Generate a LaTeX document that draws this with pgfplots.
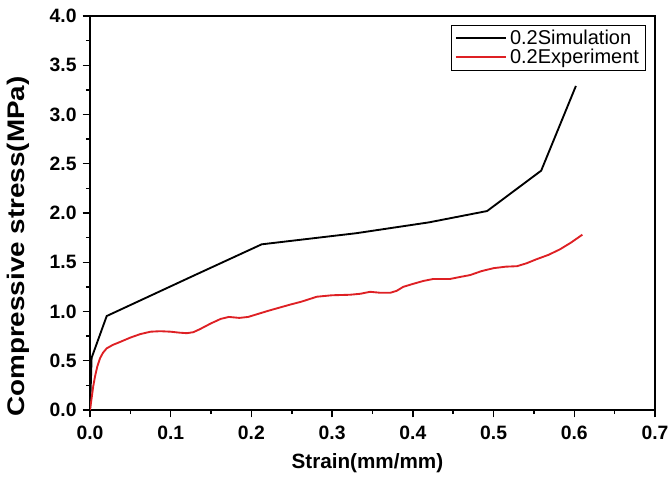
\documentclass[border=0pt]{standalone}
\usepackage{fontspec}
\setmainfont{Liberation Sans}
\usepackage{pgfplots}
\pgfplotsset{compat=1.18}
\definecolor{simblack}{RGB}{0,0,0}
\definecolor{expred}{RGB}{222,32,36}

\begin{document}
\begin{tikzpicture}
\begin{axis}[
    name=ax,
    width=423.75pt, height=295.5pt,
    scale only axis,
    xmin=0, xmax=0.7, ymin=0, ymax=4.0,
    xtick={0,0.1,...,0.7},
    ytick={0,0.5,...,4.0},
    minor x tick num=1,
    minor y tick num=1,
    xtick pos=bottom, ytick pos=left,
    tick align=outside,
    major tick length=5.5pt,
    minor tick length=3pt,
    axis line style={line width=1.1pt},
    tick style={line width=1.1pt, black},
    /pgf/number format/assume math mode=true,
    /pgf/number format/.cd, fixed, fixed zerofill, precision=1, /pgfplots/.cd,
    tick label style={font=\fontsize{14.5}{16}\selectfont\bfseries},
    xticklabel style={yshift=-3pt},
    yticklabel style={xshift=-1pt},
    xlabel={Strain(mm/mm)},
    ylabel={Compressive stress(MPa)},
    every axis x label/.style={at={(axis description cs:0.491,-0.135)}, anchor=center,
        font=\fontsize{15.5}{18}\selectfont\bfseries},
    every axis y label/.style={at={(axis description cs:-0.127,0.415)}, rotate=90, xscale=1.16,
        anchor=center, font=\fontsize{18}{20}\selectfont\bfseries},
    legend style={
        at={(0.984,0.977)}, anchor=north east,
        draw=black, thin,
        font=\fontsize{15}{17}\selectfont,
        inner xsep=3pt, inner ysep=1.5pt, row sep=-2pt,
    },
    legend cell align={left},
    legend image code/.code={\draw[#1] (0pt,0pt) -- (38pt,0pt);},
]
\addplot[simblack, line width=1.4pt] coordinates {
    (0,0) (0.002,0.53) (0.0207,0.954) (0.13,1.37) (0.2127,1.682)
    (0.33,1.795) (0.42,1.905) (0.492,2.02) (0.559,2.43) (0.602,3.29)
};
\addlegendentry{0.2Simulation}

\addplot[expred, line width=1.4pt] coordinates {
    (0,0) (0.002,0.12) (0.004,0.24) (0.0062,0.34) (0.009,0.44)
    (0.0124,0.525) (0.016,0.58) (0.0207,0.626) (0.028,0.66) (0.037,0.69)
    (0.05,0.735) (0.062,0.77) (0.075,0.795) (0.087,0.80) (0.1,0.795)
    (0.111,0.785) (0.12,0.78) (0.128,0.79) (0.136,0.82) (0.15,0.88)
    (0.162,0.925) (0.172,0.945) (0.185,0.935) (0.196,0.945) (0.21,0.98)
    (0.222,1.01) (0.235,1.04) (0.248,1.07) (0.262,1.10) (0.281,1.15)
    (0.3,1.165) (0.322,1.17) (0.335,1.18) (0.347,1.20) (0.36,1.19)
    (0.372,1.19) (0.38,1.21) (0.388,1.25) (0.40,1.28) (0.413,1.31)
    (0.425,1.33) (0.434,1.33) (0.446,1.33) (0.458,1.35) (0.471,1.37)
    (0.485,1.41) (0.50,1.44) (0.515,1.455) (0.529,1.46) (0.541,1.49)
    (0.553,1.53) (0.568,1.575) (0.582,1.63) (0.596,1.70) (0.610,1.78)
};
\addlegendentry{0.2Experiment}
\end{axis}
\pgfresetboundingbox
\path ([shift={(-67.5pt,-51pt)}]ax.south west) rectangle ([shift={(12.75pt,12pt)}]ax.north east);
\end{tikzpicture}
\end{document}
